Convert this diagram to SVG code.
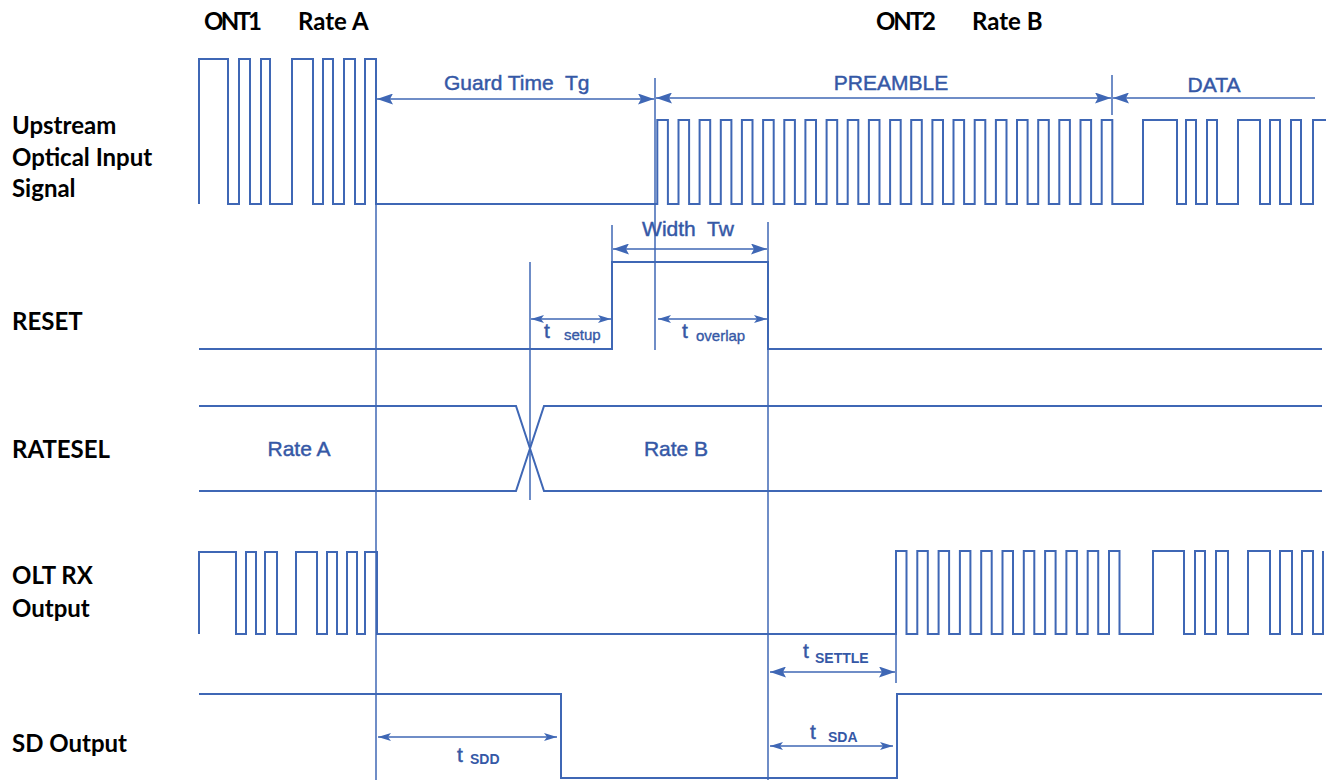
<svg xmlns="http://www.w3.org/2000/svg" width="1328" height="780" viewBox="0 0 1328 780">
<style>
.w{fill:none;stroke:#3f67b5;stroke-width:2;stroke-linejoin:miter}
.g{fill:none;stroke:#3f67b5;stroke-width:1.5}
.lbl{font-family:Lato,"Liberation Sans",sans-serif;font-weight:bold;font-size:24px;fill:#000}
.bt{font-family:"Liberation Sans",Arial,sans-serif;font-size:21px;fill:#3558a6;stroke:#3558a6;stroke-width:0.45;white-space:pre}
.sub{font-family:"Liberation Sans",Arial,sans-serif;font-size:15px;fill:#3558a6;stroke:#3558a6;stroke-width:0.35}
.subc{font-family:"Liberation Sans",Arial,sans-serif;font-size:14px;font-weight:bold;fill:#3558a6}
.big{marker-start:url(#ab);marker-end:url(#ab)}
.sm{marker-start:url(#as);marker-end:url(#as)}
</style>
<defs>
<marker id="ab" markerUnits="userSpaceOnUse" markerWidth="16" markerHeight="11" refX="16" refY="5.5" orient="auto-start-reverse" viewBox="0 0 16 11"><path d="M0,0 L16,5.5 L0,11 L3,5.5 z" fill="#3f67b5"/></marker>
<marker id="as" markerUnits="userSpaceOnUse" markerWidth="13" markerHeight="8" refX="13" refY="4" orient="auto-start-reverse" viewBox="0 0 13 8"><path d="M0,0 L13,4 L0,8 L3,4 z" fill="#3f67b5"/></marker>
</defs>
<rect width="1328" height="780" fill="#fff"/>

<g id="labels">
<text class="lbl" x="204" y="30" textLength="58">ONT1</text>
<text class="lbl" x="298" y="30">Rate A</text>
<text class="lbl" x="876" y="30" textLength="60">ONT2</text>
<text class="lbl" x="972" y="30">Rate B</text>
<text class="lbl" x="12" y="134">Upstream</text>
<text class="lbl" x="12" y="166">Optical Input</text>
<text class="lbl" x="12" y="197">Signal</text>
<text class="lbl" x="12" y="330">RESET</text>
<text class="lbl" x="12" y="458">RATESEL</text>
<text class="lbl" x="12" y="584">OLT RX</text>
<text class="lbl" x="12" y="617">Output</text>
<text class="lbl" x="12" y="752">SD Output</text>
</g>

<g id="upstream">
<path class="w" d="M199,204 V59 H228 V204 H239 V59 H250 V204 H261 V59 H270 V204 H292 V59 H313 V204 H323 V59 H333 V204 H344 V59 H355 V204 H365 V59 H376 V204 H657.3 V120 H667.9 V204 H678.5 V120 H689.1 V204 H699.6 V120 H710.2 V204 H720.8 V120 H731.4 V204 H741.9 V120 H752.5 V204 H763.1 V120 H773.7 V204 H784.3 V120 H794.9 V204 H805.4 V120 H816 V204 H826.6 V120 H837.2 V204 H847.7 V120 H858.3 V204 H868.9 V120 H879.5 V204 H890.1 V120 H900.7 V204 H911.2 V120 H921.8 V204 H932.4 V120 H943 V204 H953.5 V120 H964.1 V204 H974.7 V120 H985.3 V204 H995.9 V120 H1006.5 V204 H1017 V120 H1027.6 V204 H1038.2 V120 H1048.8 V204 H1059.3 V120 H1069.9 V204 H1080.5 V120 H1091.1 V204 H1101.7 V120 H1112.3 V204 H1143 V120 H1177 V204 H1186 V120 H1196 V204 H1207 V120 H1217 V204 H1238 V120 H1260 V204 H1270 V120 H1280 V204 H1291 V120 H1301 V204 H1313 V120 H1326"/>
</g>

<g id="reset">
<path class="w" d="M199,349 H612 V262 H768 V349 H1322"/>
</g>

<g id="ratesel">
<path class="w" d="M199,406 H516 L544,491 H1322"/>
<path class="w" d="M199,491 H516 L544,406 H1322"/>
<text class="bt" x="299" y="456" text-anchor="middle">Rate A</text>
<text class="bt" x="676" y="456" text-anchor="middle">Rate B</text>
</g>

<g id="olt-rx">
<path class="w" d="M199,634 V552 H236 V634 H246 V552 H256 V634 H265 V552 H277 V634 H296 V552 H317 V634 H327 V552 H337 V634 H347 V552 H357 V634 H365 V552 H377 V634 H896 V551 H906.5 V634 H917.3 V551 H927.8 V634 H938.6 V551 H949.1 V634 H959.9 V551 H970.4 V634 H981.2 V551 H991.7 V634 H1002.5 V551 H1013 V634 H1023.8 V551 H1034.3 V634 H1045.1 V551 H1055.6 V634 H1066.4 V551 H1076.9 V634 H1087.7 V551 H1098.2 V634 H1109 V551 H1119.5 V634 H1153 V551 H1184 V634 H1195 V551 H1205 V634 H1216 V551 H1228 V634 H1248 V551 H1270 V634 H1280 V551 H1292 V634 H1302 V551 H1313 V634 H1323 V551"/>
</g>

<g id="sd-output">
<path class="w" d="M199,694 H561 V778 H897 V694 H1322"/>
</g>

<g id="connectors">
<path class="g" d="M376,85 V780"/>
<path class="g" d="M655,78 V350"/>
<path class="g" d="M1112,75 V115"/>
<path class="g" d="M768,222 V780"/>
<path class="g" d="M612,225 V262"/>
<path class="g" d="M530,262 V500"/>
<path class="g" d="M896,634 V683"/>
<path class="g big" d="M377,99 H654"/>
<path class="g big" d="M656,98 H1111"/>
<path class="g" d="M1113,98 H1315" marker-start="url(#ab)"/>
<path class="g big" d="M613,249 H767"/>
<path class="g sm" d="M531,319 H611"/>
<path class="g sm" d="M658,319 H767"/>
<path class="g sm" d="M378,737 H557"/>
<path class="g big" d="M770,672 H895"/>
<path class="g sm" d="M770,746 H893"/>
</g>

<g id="dimension-labels">
<text class="bt" x="444" y="90">Guard Time  Tg</text>
<text class="bt" x="891" y="90" text-anchor="middle">PREAMBLE</text>
<text class="bt" x="1214" y="92" text-anchor="middle">DATA</text>
<text class="bt" x="688" y="236" text-anchor="middle">Width  Tw</text>
<text class="bt" x="544" y="338">t</text>
<text class="sub" x="564" y="340">setup</text>
<text class="bt" x="682" y="338">t</text>
<text class="sub" x="696" y="341">overlap</text>
<text class="bt" x="457" y="762">t</text>
<text class="subc" x="470" y="764">SDD</text>
<text class="bt" x="803" y="658">t</text>
<text class="subc" x="815" y="663">SETTLE</text>
<text class="bt" x="810" y="739">t</text>
<text class="subc" x="828" y="742">SDA</text>
</g>
</svg>
